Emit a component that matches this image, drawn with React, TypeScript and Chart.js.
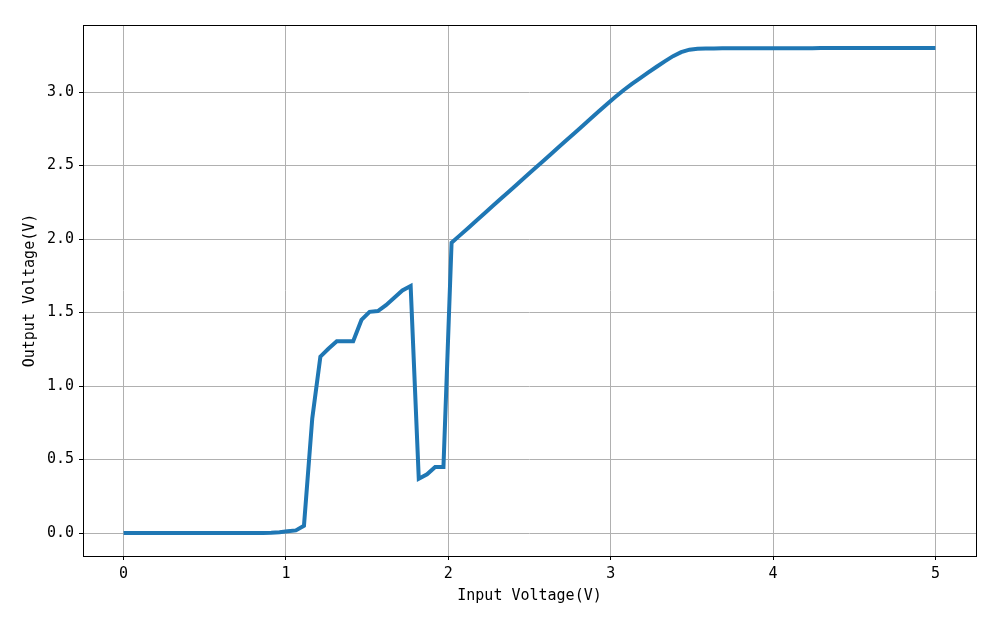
import React, { useEffect, useRef } from "react";
import { Chart, registerables } from "chart.js";

Chart.register(...registerables);

const inputVoltage: number[] = [
  0, 0.051, 0.101, 0.152, 0.202, 0.253, 0.303, 0.354, 0.404, 0.455,
  0.505, 0.556, 0.606, 0.657, 0.707, 0.758, 0.808, 0.859, 0.909, 0.96,
  1.01, 1.061, 1.111, 1.162, 1.212, 1.263, 1.313, 1.364, 1.414, 1.465,
  1.515, 1.566, 1.616, 1.667, 1.717, 1.768, 1.818, 1.869, 1.919, 1.97,
  2.02, 2.071, 2.121, 2.172, 2.222, 2.273, 2.323, 2.374, 2.424, 2.475,
  2.525, 2.576, 2.626, 2.677, 2.727, 2.778, 2.828, 2.879, 2.929, 2.98,
  3.03, 3.081, 3.131, 3.182, 3.232, 3.283, 3.333, 3.384, 3.434, 3.485,
  3.535, 3.586, 3.636, 3.687, 3.737, 3.788, 3.838, 3.889, 3.939, 3.99,
  4.04, 4.091, 4.141, 4.192, 4.242, 4.293, 4.343, 4.394, 4.444, 4.495,
  4.545, 4.596, 4.646, 4.697, 4.747, 4.798, 4.848, 4.899, 4.949, 5.0,
];

const outputVoltage: number[] = [
  0, 0, 0, 0, 0, 0, 0, 0, 0, 0,
  0, 0, 0, 0, 0, 0.001, 0.001, 0.001, 0.002, 0.005,
  0.012, 0.018, 0.05, 0.78, 1.2, 1.255, 1.305, 1.305, 1.305, 1.45,
  1.505, 1.51, 1.55, 1.6, 1.65, 1.68, 0.37, 0.4, 0.45, 0.45,
  1.975, 2.025, 2.074, 2.124, 2.174, 2.224, 2.274, 2.323, 2.373, 2.423,
  2.473, 2.522, 2.572, 2.622, 2.672, 2.722, 2.771, 2.821, 2.871, 2.921,
  2.968, 3.014, 3.055, 3.094, 3.133, 3.172, 3.209, 3.244, 3.271, 3.288,
  3.295, 3.296, 3.296, 3.297, 3.297, 3.297, 3.297, 3.297, 3.298, 3.298,
  3.298, 3.298, 3.298, 3.298, 3.298, 3.299, 3.299, 3.299, 3.299, 3.299,
  3.299, 3.299, 3.299, 3.299, 3.299, 3.299, 3.299, 3.299, 3.299, 3.299,
];

const xTicks: number[] = [0, 1, 2, 3, 4, 5];
const yTicks: number[] = [0, 0.5, 1.0, 1.5, 2.0, 2.5, 3.0];

const xTitle = "Input Voltage(V)";
const yTitle = "Output Voltage(V)";

const FONT = "'DejaVu Sans Mono', 'Liberation Mono', monospace";

const frame = {
  id: "frame",
  afterDatasetsDraw(chart: any) {
    const { ctx, chartArea } = chart;
    ctx.save();
    ctx.strokeStyle = "#000";
    ctx.lineWidth = 1;
    ctx.strokeRect(
      Math.round(chartArea.left) + 0.5,
      Math.round(chartArea.top) + 0.5,
      Math.round(chartArea.right - chartArea.left),
      Math.round(chartArea.bottom - chartArea.top)
    );
    ctx.restore();
  },
};

export default function App() {
  const ref = useRef<HTMLCanvasElement | null>(null);

  useEffect(() => {
    if (!ref.current) return;
    const points = inputVoltage.map((x, i) => ({ x, y: outputVoltage[i] }));
    const chart = new Chart(ref.current, {
      type: "line",
      data: {
        datasets: [
          {
            data: points,
            borderColor: "#1f77b4",
            backgroundColor: "#1f77b4",
            borderWidth: 4,
            pointRadius: 0,
            tension: 0,
            fill: false,
          },
        ],
      },
      options: {
        animation: false,
        responsive: false,
        layout: { padding: { top: 25, right: 24, left: 0, bottom: 0 } },
        plugins: { legend: { display: false }, tooltip: { enabled: false } },
        scales: {
          x: {
            type: "linear",
            min: -0.25,
            max: 5.25,
            afterBuildTicks: (s: any) => {
              s.ticks = xTicks.map((v) => ({ value: v }));
            },
            afterFit: (s: any) => {
              s.height = 69;
            },
            border: { display: false },
            grid: {
              color: "#b0b0b0",
              lineWidth: 1,
              tickColor: "#000",
              tickLength: 4,
              drawTicks: true,
            },
            ticks: {
              color: "#000",
              font: { family: FONT, size: 15 },
              padding: 5,
              maxRotation: 0,
              callback: (v: any) => String(v),
            },
            title: {
              display: true,
              text: xTitle,
              color: "#000",
              font: { family: FONT, size: 15 },
              padding: { top: 0, bottom: 20 },
            },
          },
          y: {
            type: "linear",
            min: -0.156,
            max: 3.456,
            afterBuildTicks: (s: any) => {
              s.ticks = yTicks.map((v) => ({ value: v }));
            },
            afterFit: (s: any) => {
              s.width = 83;
            },
            border: { display: false },
            grid: {
              color: "#b0b0b0",
              lineWidth: 1,
              tickColor: "#000",
              tickLength: 4,
              drawTicks: true,
            },
            ticks: {
              color: "#000",
              font: { family: FONT, size: 15 },
              padding: 5,
              callback: (v: any) => Number(v).toFixed(1),
            },
            title: {
              display: true,
              text: yTitle,
              color: "#000",
              font: { family: FONT, size: 15 },
              padding: { top: 21, bottom: 0 },
            },
          },
        },
      },
      plugins: [frame],
    });
    return () => chart.destroy();
  }, []);

  return (
    <div style={{ position: "absolute", left: 0, top: 0, width: 1000, height: 625, background: "#fff" }}>
      <canvas ref={ref} width={1000} height={625} style={{ width: 1000, height: 625 }} />
    </div>
  );
}
